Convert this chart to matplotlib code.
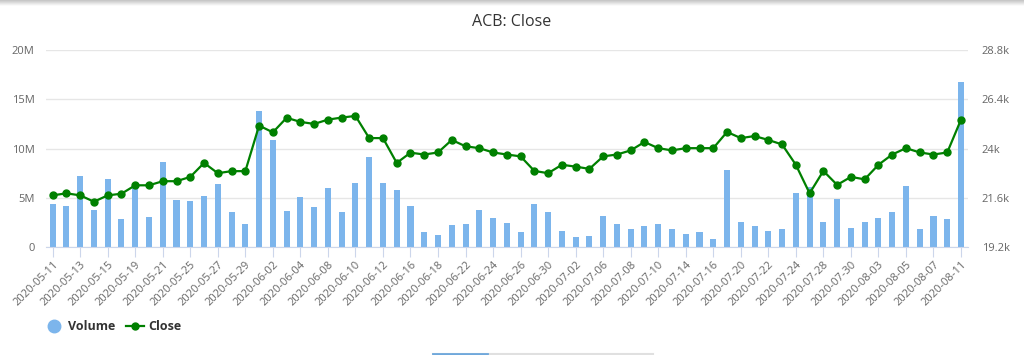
import numpy as np
import matplotlib
matplotlib.use("Agg")
import matplotlib.pyplot as plt
from matplotlib.lines import Line2D

plt.rcParams['font.family'] = ['Open Sans', 'DejaVu Sans']

# trading days (weekdays) 2020-05-11 .. 2020-08-11
dates = [
    "2020-05-11", "2020-05-12", "2020-05-13", "2020-05-14", "2020-05-15",
    "2020-05-18", "2020-05-19", "2020-05-20", "2020-05-21", "2020-05-22",
    "2020-05-25", "2020-05-26", "2020-05-27", "2020-05-28", "2020-05-29",
    "2020-06-01", "2020-06-02", "2020-06-03", "2020-06-04", "2020-06-05",
    "2020-06-08", "2020-06-09", "2020-06-10", "2020-06-11", "2020-06-12",
    "2020-06-15", "2020-06-16", "2020-06-17", "2020-06-18", "2020-06-19",
    "2020-06-22", "2020-06-23", "2020-06-24", "2020-06-25", "2020-06-26",
    "2020-06-29", "2020-06-30", "2020-07-01", "2020-07-02", "2020-07-03",
    "2020-07-06", "2020-07-07", "2020-07-08", "2020-07-09", "2020-07-10",
    "2020-07-13", "2020-07-14", "2020-07-15", "2020-07-16", "2020-07-17",
    "2020-07-20", "2020-07-21", "2020-07-22", "2020-07-23", "2020-07-24",
    "2020-07-27", "2020-07-28", "2020-07-29", "2020-07-30", "2020-07-31",
    "2020-08-03", "2020-08-04", "2020-08-05", "2020-08-06", "2020-08-07",
    "2020-08-10", "2020-08-11",
]

# volume in millions
volume = [
    4.40, 4.13, 7.17, 3.75, 6.96, 2.80, 6.20, 3.07, 8.60, 4.74,
    4.64, 5.22, 6.38, 3.52, 2.35, 13.79, 10.82, 3.69, 5.12, 4.03,
    6.00, 3.52, 6.55, 9.15, 6.55, 5.80, 4.13, 1.57, 1.26, 2.29,
    2.35, 3.79, 2.97, 2.42, 1.57, 4.33, 3.52, 1.64, 0.99, 1.16,
    3.14, 2.35, 1.81, 2.15, 2.35, 1.81, 1.37, 1.57, 0.82, 7.78,
    2.53, 2.15, 1.64, 1.88, 5.46, 6.10, 2.59, 4.85, 1.98, 2.59,
    2.97, 3.58, 6.18, 1.81, 3.14, 2.80, 16.79,
]

# close in thousands
close = [
    21.72, 21.82, 21.72, 21.41, 21.72, 21.80, 22.21, 22.21, 22.41, 22.41,
    22.62, 23.30, 22.80, 22.90, 22.90, 25.12, 24.79, 25.50, 25.30, 25.20,
    25.41, 25.51, 25.59, 24.51, 24.51, 23.30, 23.80, 23.71, 23.81, 24.42,
    24.11, 24.02, 23.81, 23.71, 23.62, 22.91, 22.80, 23.21, 23.12, 23.01,
    23.62, 23.71, 23.91, 24.32, 24.02, 23.91, 24.02, 24.02, 24.02, 24.81,
    24.51, 24.61, 24.42, 24.20, 23.21, 21.82, 22.91, 22.23, 22.62, 22.50,
    23.21, 23.71, 24.02, 23.81, 23.71, 23.81, 25.41,
]

vol_ticks = [0, 5, 10, 15, 20]
vol_labels = ["0", "5M", "10M", "15M", "20M"]
close_ticks = [19.2, 21.6, 24.0, 26.4, 28.8]
close_labels = ["19.2k", "21.6k", "24k", "26.4k", "28.8k"]

bar_color = "#7cb5ec"
line_color = "#008000"
grid_color = "#e6e6e6"
label_color = "#666666"

fig = plt.figure(figsize=(10.24, 3.55), dpi=100)
ax = fig.add_axes([0.0447, 0.304, 0.9005, 0.555])
x = np.arange(len(dates))

ax.bar(x, volume, width=0.44, color=bar_color, zorder=2)
ax.set_xlim(-0.5, len(dates) - 0.5)
ax.set_ylim(0, 20)
ax.set_yticks(vol_ticks)
ax.set_yticklabels(vol_labels)
ax.yaxis.grid(True, color=grid_color, linewidth=1, zorder=0)
ax.set_axisbelow(True)
for s in ["top", "left", "right"]:
    ax.spines[s].set_visible(False)
ax.spines["bottom"].set_color("#ccd6eb")
ax.tick_params(axis="y", length=0, labelsize=8, labelcolor=label_color, pad=8)
ax.set_xticks(x[::2])
ax.set_xticklabels(dates[::2], rotation=45, ha="right", rotation_mode="anchor")
ax.tick_params(axis="x", length=7, color="#ccd6eb", labelsize=8,
               labelcolor=label_color, pad=2)

ax2 = ax.twinx()
ax2.plot(x, close, color=line_color, linewidth=1.6, marker="o", markersize=5, zorder=3)
ax2.set_ylim(19.2, 28.8)
ax2.set_yticks(close_ticks)
ax2.set_yticklabels(close_labels)
ax2.tick_params(axis="y", length=0, labelsize=8, labelcolor=label_color, pad=10)
for s in ["top", "left", "right", "bottom"]:
    ax2.spines[s].set_visible(False)

fig.text(0.5, 0.937, "ACB: Close", ha="center", va="center", fontsize=11.5, color="#333333")

handles = [
    Line2D([], [], linestyle="none", marker="o", markersize=9, color=bar_color),
    Line2D([], [], color=line_color, linewidth=1.6, marker="o", markersize=5),
]
leg = fig.legend(handles, ["Volume", "Close"], loc="center left",
                 bbox_to_anchor=(0.033, 0.08), ncol=2, frameon=False,
                 handlelength=1.4, handletextpad=0.4, columnspacing=0.9,
                 prop={"weight": "bold", "size": 9})
for t in leg.get_texts():
    t.set_color("#333333")

# top shadow and bottom navigator strip of the page
for i in range(6):
    fig.add_artist(plt.Rectangle((0, 1 - (i + 1) / 355), 1, 1 / 355,
                                 transform=fig.transFigure,
                                 color=str(0.78 + i * 0.04), lw=0))
fig.add_artist(Line2D([433 / 1024, 653 / 1024], [1.5 / 355, 1.5 / 355],
                      transform=fig.transFigure, color="#e0e0e0", lw=1.5))
fig.add_artist(Line2D([433 / 1024, 487 / 1024], [1.5 / 355, 1.5 / 355],
                      transform=fig.transFigure, color="#6fa8dc", lw=2))

plt.savefig("out.png", dpi=100)
